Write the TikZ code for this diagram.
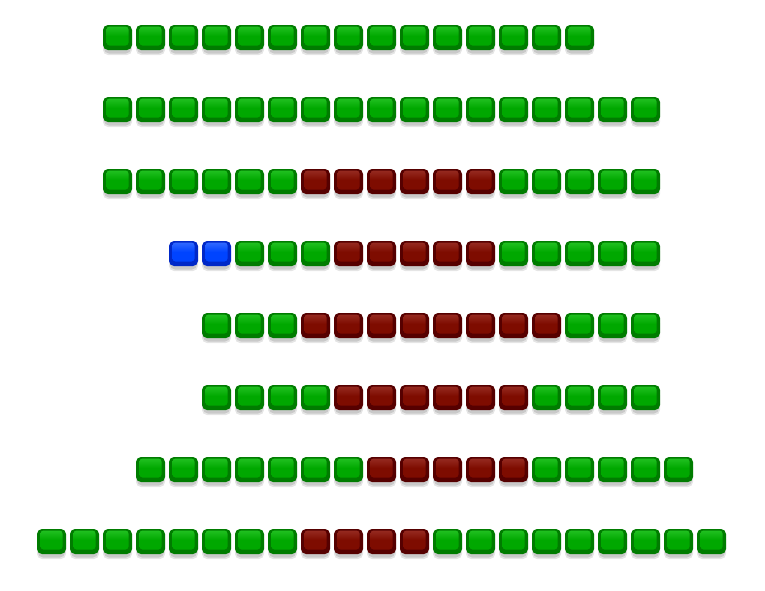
\documentclass[tikz,border=0pt]{standalone}
\definecolor{gD}{HTML}{007C00}
\definecolor{gF}{HTML}{00A800}
\definecolor{gL}{HTML}{20C020}
\definecolor{rD}{HTML}{560000}
\definecolor{rF}{HTML}{7E0C00}
\definecolor{rL}{HTML}{952A20}
\definecolor{uD}{HTML}{0028C8}
\definecolor{uF}{HTML}{0044FF}
\definecolor{uL}{HTML}{3068FF}
\tikzset{
  pics/blk/.style={code={
    \fill[black,opacity=.10,rounded corners=5pt] (0,5) rectangle (29,30);
    \fill[black,opacity=.12,rounded corners=5pt] (1,4) rectangle (28,28.5);
    \fill[#1D,rounded corners=5pt] (0,0) rectangle (29,25);
    \shade[top color=#1L,bottom color=#1F,middle color=#1F,rounded corners=3pt] (3.5,1.5) rectangle (25.5,20.5);
  }}
}
\begin{document}
\begin{tikzpicture}[x=1pt,y=-1pt]
\useasboundingbox (0,0) rectangle (765,590);
\fill[white] (0,0) rectangle (765,590);
% row 1
\foreach \c [count=\i from 0] in {g,g,g,g,g,g,g,g,g,g,g,g,g,g,g}
  \pic at ({103+33*\i},25) {blk=\c};
% row 2
\foreach \c [count=\i from 0] in {g,g,g,g,g,g,g,g,g,g,g,g,g,g,g,g,g}
  \pic at ({103+33*\i},97) {blk=\c};
% row 3
\foreach \c [count=\i from 0] in {g,g,g,g,g,g,r,r,r,r,r,r,g,g,g,g,g}
  \pic at ({103+33*\i},169) {blk=\c};
% row 4
\foreach \c [count=\i from 0] in {u,u,g,g,g,r,r,r,r,r,g,g,g,g,g}
  \pic at ({169+33*\i},241) {blk=\c};
% row 5
\foreach \c [count=\i from 0] in {g,g,g,r,r,r,r,r,r,r,r,g,g,g}
  \pic at ({202+33*\i},313) {blk=\c};
% row 6
\foreach \c [count=\i from 0] in {g,g,g,g,r,r,r,r,r,r,g,g,g,g}
  \pic at ({202+33*\i},385) {blk=\c};
% row 7
\foreach \c [count=\i from 0] in {g,g,g,g,g,g,g,r,r,r,r,r,g,g,g,g,g}
  \pic at ({136+33*\i},457) {blk=\c};
% row 8
\foreach \c [count=\i from 0] in {g,g,g,g,g,g,g,g,r,r,r,r,g,g,g,g,g,g,g,g,g}
  \pic at ({37+33*\i},529) {blk=\c};
\end{tikzpicture}
\end{document}
